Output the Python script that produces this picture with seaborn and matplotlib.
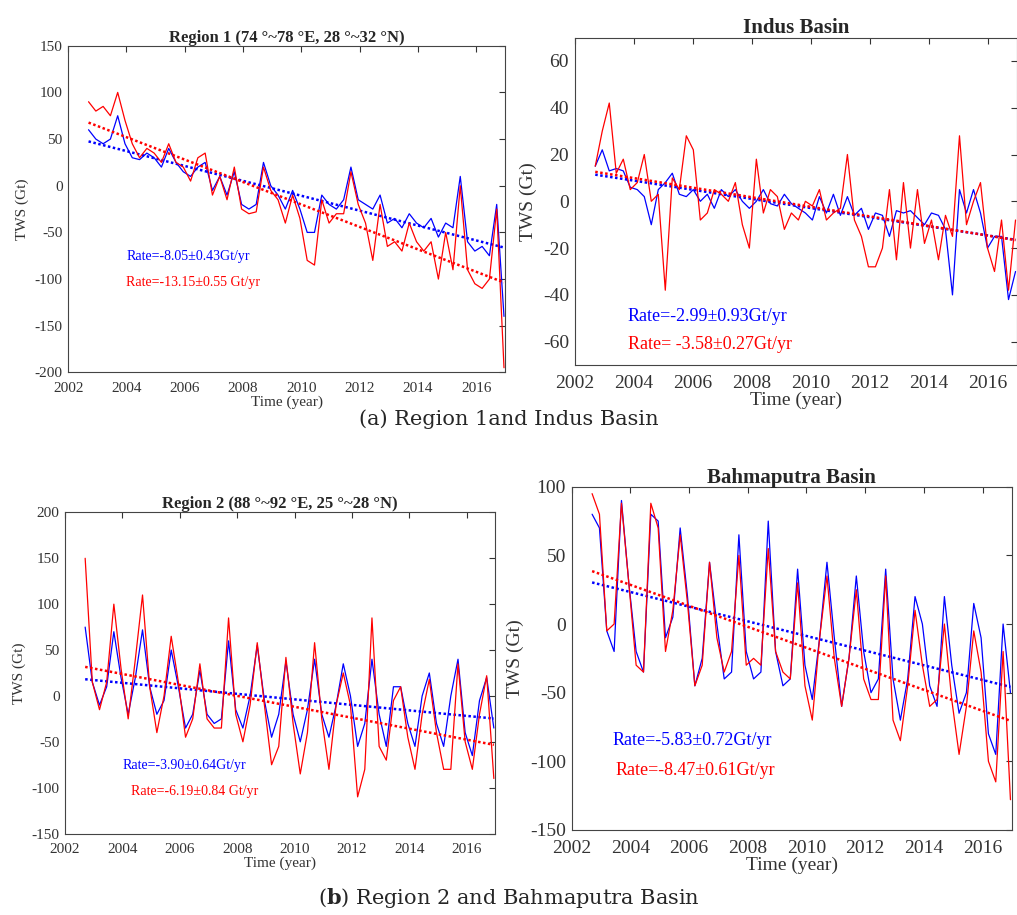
import numpy as np
import pandas as pd
import matplotlib
matplotlib.use("Agg")
import matplotlib.pyplot as plt
import seaborn as sns

# quarterly TWS anomalies (Gt), 2002.7 .. 2016.95
r1_blue = [60, 50, 45, 50, 75, 45, 30, 28, 35, 30, 20, 40, 25, 15, 10, 20, 25, -5, 10, -10,
           15, -20, -25, -20, 25, 0, -10, -25, -5, -25, -50, -50, -10, -20, -25, -15, 20, -15,
           -20, -25, -10, -40, -35, -45, -30, -40, -45, -35, -55, -40, -45, 10, -60, -70, -65,
           -75, -20, -140]
r1_red = [90, 80, 85, 75, 100, 70, 45, 30, 40, 35, 25, 45, 25, 20, 5, 30, 35, -10, 10, -15,
          20, -25, -30, -28, 20, -5, -15, -40, -10, -35, -80, -85, -15, -40, -30, -30, 15, -20,
          -40, -80, -20, -65, -60, -70, -40, -60, -70, -60, -100, -50, -90, 0, -90, -105, -110,
          -100, -25, -195]
indus_blue = [15, 22, 13, 14, 13, 6, 5, 2, -10, 5, 8, 12, 3, 2, 5, 0, 3, -3, 5, 2, 5, 0, -3,
              0, 5, -1, -2, 3, -1, -3, -5, -8, 2, -5, 3, -6, 2, -6, -3, -12, -5, -6, -15, -4,
              -5, -4, -7, -10, -5, -6, -12, -40, 5, -5, 5, -5, -20, -15, -15, -42, -30]
indus_red = [15, 30, 42, 12, 18, 5, 8, 20, 0, 3, -38, 10, 5, 28, 22, -8, -5, 5, 3, 0, 8, -10,
             -20, 18, -5, 5, 2, -12, -5, -8, 0, -2, 5, -8, -5, -3, 20, -8, -15, -28, -28, -20,
             5, -25, 8, -20, 5, -18, -8, -25, -6, -15, 28, -10, 0, 8, -20, -30, -8, -38, -8]
r2_blue = [75, 15, -10, 10, 70, 20, -20, 20, 72, 10, -20, -5, 50, 10, -35, -20, 28, -20, -30,
           -25, 60, -15, -35, 0, 55, -5, -45, -20, 38, -20, -50, -15, 40, -20, -45, -10, 35, 0,
           -55, -30, 40, -20, -55, 10, 10, -30, -55, 0, 25, -30, -55, 0, 40, -40, -65, -5, 20, -35]
r2_red = [150, 15, -15, 15, 100, 30, -25, 40, 110, 10, -40, 0, 65, 15, -45, -25, 35, -25, -35,
          -35, 85, -20, -50, -10, 58, -10, -75, -55, 42, -30, -85, -40, 58, -25, -80, -10, 25,
          -10, -110, -80, 85, -55, -70, -5, 10, -45, -80, -20, 18, -40, -80, -80, 35, -50, -80,
          -20, 22, -90]
brahma_blue = [80, 70, -5, -20, 90, 30, -20, -35, 80, 75, -10, 5, 70, 20, -45, -25, 45, 0, -40,
               -35, 65, -20, -40, -35, 75, -20, -45, -40, 40, -30, -55, -10, 45, -10, -60, -25,
               35, -20, -50, -40, 40, -40, -70, -40, 20, 0, -45, -60, 20, -30, -65, -50, 15, -10,
               -80, -95, 0, -50]
brahma_red = [95, 80, -5, 0, 88, 30, -30, -35, 88, 70, -20, 10, 65, 15, -45, -30, 45, -10,
              -35, -20, 50, -30, -25, -30, 55, -20, -35, -40, 30, -45, -70, -10, 35, -25, -60,
              -25, 25, -40, -55, -55, 35, -70, -85, -45, 10, -30, -60, -55, 0, -55, -95, -60, -5,
              -35, -100, -115, -20, -128]

panels = [
    dict(title="Region 1 (74 \u00b0~78 \u00b0E, 28 \u00b0~32 \u00b0N)", blue=r1_blue, red=r1_red,
         ylim=(-200, 150), yticks=np.arange(-200, 151, 50),
         rates=("Rate=-8.05\u00b10.43Gt/yr", "Rate=-13.15\u00b10.55 Gt/yr"),
         rate_xy=((2004.0, -80), (2004.0, -107)), fs=11,
         rect=[0.067, 0.593, 0.430, 0.357]),
    dict(title="Indus Basin", blue=indus_blue, red=indus_red,
         ylim=(-70, 70), yticks=np.arange(-60, 61, 20),
         rates=("Rate=-2.99\u00b10.93Gt/yr", "Rate= -3.58\u00b10.27Gt/yr"),
         rate_xy=((2003.8, -51), (2003.8, -63)), fs=14,
         rect=[0.565, 0.601, 0.435, 0.358]),
    dict(title="Region 2 (88 \u00b0~92 \u00b0E, 25 \u00b0~28 \u00b0N)", blue=r2_blue, red=r2_red,
         ylim=(-150, 200), yticks=np.arange(-150, 201, 50),
         rates=("Rate=-3.90\u00b10.64Gt/yr", "Rate=-6.19\u00b10.84 Gt/yr"),
         rate_xy=((2004.0, -80), (2004.3, -108)), fs=11,
         rect=[0.064, 0.089, 0.423, 0.351]),
    dict(title="Bahmaputra Basin", blue=brahma_blue, red=brahma_red,
         ylim=(-150, 100), yticks=np.arange(-150, 101, 50),
         rates=("Rate=-5.83\u00b10.72Gt/yr", "Rate=-8.47\u00b10.61Gt/yr"),
         rate_xy=((2003.4, -88), (2003.5, -110)), fs=14,
         rect=[0.562, 0.093, 0.433, 0.375]),
]

sns.set_style("white")
plt.rcParams["font.family"] = ["Liberation Serif", "DejaVu Serif"]
plt.rcParams["axes.unicode_minus"] = False
plt.rcParams["mathtext.fontset"] = "dejavuserif"

fig = plt.figure(figsize=(10.17, 9.15), dpi=100)

for p in panels:
    ax = fig.add_axes(p["rect"])
    for key, color in (("blue", "blue"), ("red", "red")):
        vals = np.array(p[key], dtype=float)
        t = np.linspace(2002.7, 2016.95, len(vals))
        df = pd.DataFrame({"t": t, "v": vals})
        sns.lineplot(data=df, x="t", y="v", color=color, lw=0.9, ax=ax)
        k, b = np.polyfit(t, vals, 1)
        ax.plot(t, k * t + b, color=color, ls=(0, (1, 1)), lw=1.8)
    (bx, by), (rx, ry) = p["rate_xy"]
    ax.text(bx, by, p["rates"][0], color="blue", fontsize=p["fs"] - 1)
    ax.text(rx, ry, p["rates"][1], color="red", fontsize=p["fs"] - 1)
    ax.set_xlim(2002, 2017)
    ax.set_ylim(*p["ylim"])
    ax.set_xticks(np.arange(2002, 2017, 2))
    ax.set_yticks(p["yticks"])
    ax.tick_params(direction="in", top=True, right=True, labelsize=p["fs"],
                   colors="#333333", length=4)
    ax.tick_params(axis="x", pad=7)
    ax.tick_params(axis="y", pad=4)
    for s in ax.spines.values():
        s.set_color("#444444")
        s.set_linewidth(0.8)
    ax.set_title(p["title"], fontsize=p["fs"] + 1, fontweight="bold", pad=3)
    ax.set_xlabel("Time (year)", fontsize=p["fs"], color="#333333", labelpad=0)
    ax.set_ylabel("TWS (Gt)", fontsize=p["fs"], color="#333333")

fig.text(0.5, 0.553, "(a) Region 1and Indus Basin", ha="center", va="top", fontsize=15,
         family=["DejaVu Serif"])
fig.text(0.5, 0.012, r"($\mathbf{b}$) Region 2 and Bahmaputra Basin", ha="center",
         fontsize=15, family=["DejaVu Serif"])
fig.savefig("out.png", dpi=100)
